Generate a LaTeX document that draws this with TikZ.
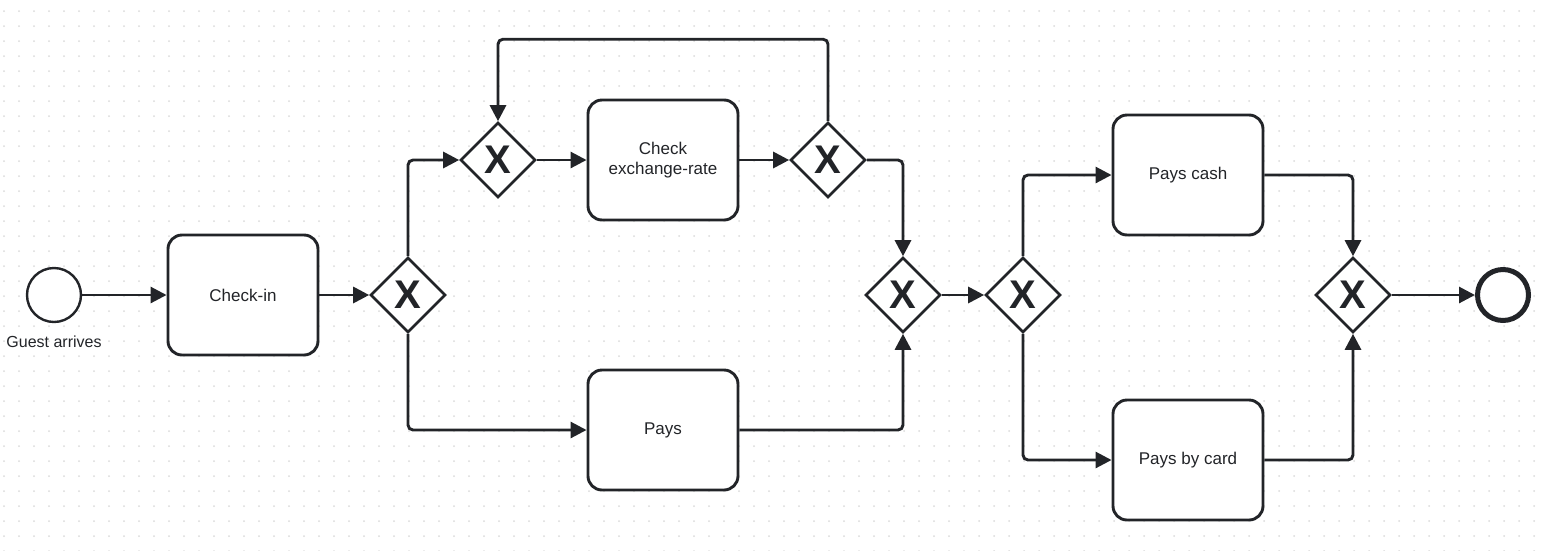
\documentclass[tikz,border=0pt]{standalone}
\usepackage{fontspec}
\setmainfont{Liberation Sans}
\usetikzlibrary{shapes.geometric,arrows.meta}
\definecolor{ink}{RGB}{34,36,40}
\definecolor{griddot}{RGB}{218,218,218}

\begin{document}
\begin{tikzpicture}[x=1pt, y=-1pt,
                        line width=2.9pt, ink,
                        flow/.style={-{Triangle[length=16pt,width=16pt]}, rounded corners=5pt},
                        task node/.style={rectangle, rounded corners=14pt, draw, fill=white, minimum width=150pt, minimum height=120pt, align=center, font=\fontsize{17}{20}\selectfont},
                        gate node/.style={diamond, draw, fill=white, line width=2.6pt, inner sep=0pt, minimum size=75pt, font=\fontsize{40}{40}\selectfont\bfseries},
                        event node/.style={circle, draw, fill=white, inner sep=0pt, minimum size=54pt}]

      \useasboundingbox (0,0) rectangle (1545,550);
      % dotted background grid
      \foreach \i in {0,...,102}
        \foreach \j in {0,...,36}
          \fill[griddot] (4+15*\i,11+15*\j) circle (1pt);

      \node[event node, line width=2.4pt] (1) at (54,295) {};
      \node[font=\fontsize{16}{18}\selectfont] (1a) at (54,342) {Guest arrives};
      \node[task node] (2) at (243,295) {Check-in};
      \node[gate node] (3) at (408,295) {X};
      \node[gate node] (4) at (498,160) {X};
      \node[task node] (5) at (663,160) {Check\\exchange-rate};
      \node[gate node] (6) at (828,160) {X};
      \node[task node] (7) at (663,430) {Pays};
      \node[gate node] (8) at (903,295) {X};
      \node[gate node] (9) at (1023,295) {X};
      \node[task node] (10) at (1188,175) {Pays cash};
      \node[task node] (11) at (1188,460) {Pays by card};
      \node[gate node] (12) at (1353,295) {X};
      \node[event node, line width=5pt, minimum size=51pt] (13) at (1503,295) {};

      \draw[flow] (1) -- (2);
      \draw[flow] (2) -- (3);
      \draw[flow] (3.north) |- (4.west);
      \draw[flow] (3.south) |- (7.west);
      \draw[flow] (4) -- (5);
      \draw[flow] (5) -- (6);
      \draw[flow] (6.north) -- ++(0,-82) -| (4.north);
      \draw[flow] (6.east) -| (8.north);
      \draw[flow] (7.east) -| (8.south);
      \draw[flow] (8) -- (9);
      \draw[flow] (9.north) |- (10.west);
      \draw[flow] (9.south) |- (11.west);
      \draw[flow] (10.east) -| (12.north);
      \draw[flow] (11.east) -| (12.south);
      \draw[flow] (12) -- (13);

    \end{tikzpicture}
\end{document}
